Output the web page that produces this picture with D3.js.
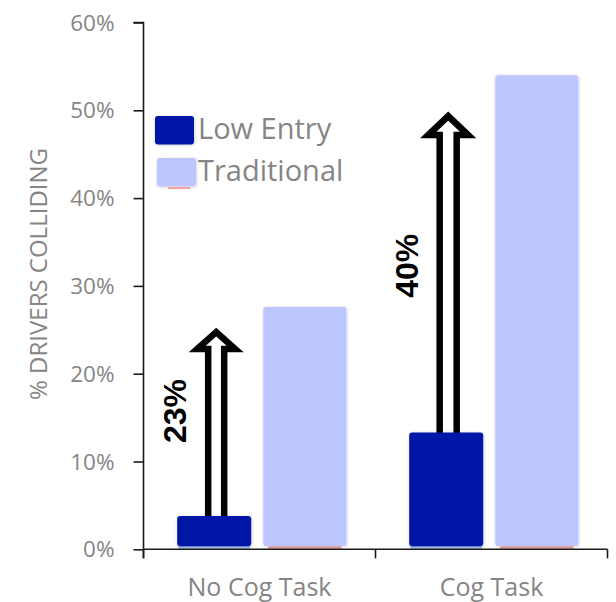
<!DOCTYPE html>
<html>
<head>
<meta charset="utf-8">
<script src="https://cdn.jsdelivr.net/npm/d3@7"></script>
<style>
  html, body { margin: 0; padding: 0; background: #fff; }
  svg { display: block; }
</style>
</head>
<body>
<script>
// ---- data ----
const categories = ["No Cog Task", "Cog Task"];
const series = ["Low Entry", "Traditional"];
const lowEntry = [0.038, 0.133];
const traditional = [0.276, 0.540];
const arrowTips = [0.252, 0.498];
const arrowLabels = ["23%", "40%"];
const arrowLabelPos = [0.1575, 0.323];
const yTickValues = [0, 0.1, 0.2, 0.3, 0.4, 0.5, 0.6];
const yTitle = "% DRIVERS COLLIDING";

// ---- styles ----
const W = 616, H = 602;
const colors = { "Low Entry": "#0016a6", "Traditional": "#bdc6ff" };
const stripColors = { "Low Entry": "#a9c4f2", "Traditional": "#f3a29c" };
const barWidth = { "Low Entry": 74, "Traditional": 83 };
const gray = "#858585";
const font = "'Open Sans', 'DejaVu Sans', sans-serif";

const svg = d3.select("body").append("svg").attr("width", W).attr("height", H);
const defs = svg.append("defs");
const f = defs.append("filter").attr("id", "sh").attr("x", "-20%").attr("y", "-20%").attr("width", "140%").attr("height", "140%");
f.append("feDropShadow").attr("dx", 0.5).attr("dy", 0.5).attr("stdDeviation", 1.5).attr("flood-color", "#000").attr("flood-opacity", 0.22);

const x0 = d3.scaleBand().domain(categories).range([143.5, 607.5]).paddingInner(0).paddingOuter(0);
const x1 = d3.scaleBand().domain(series).range([0, x0.bandwidth()]).paddingInner(0.1).paddingOuter(0.33);
const y = d3.scaleLinear().domain([0, 0.6]).range([549.3, 22.5]);

const rows = categories.map((c, i) => ({ cat: c, "Low Entry": lowEntry[i], "Traditional": traditional[i], tip: arrowTips[i], label: arrowLabels[i], lpos: arrowLabelPos[i] }));

// ---- arrows (drawn under bars) ----
const arrowG = svg.append("g");
rows.forEach(r => {
  const cx = x0(r.cat) + x1("Low Entry") + x1.bandwidth() / 2 + 2;
  const big = r.tip > 0.4;
  const hw = big ? 8.5 : 8;
  const hhw = big ? 20 : 19;
  const yTip = y(r.tip) + 4;
  const yBase = yTip + (big ? 19 : 17);
  const yBottom = y(r["Low Entry"]) + 6;
  const p = d3.path();
  p.moveTo(cx - hw, yBottom);
  p.lineTo(cx - hw, yBase);
  p.lineTo(cx - hhw, yBase);
  p.lineTo(cx, yTip);
  p.lineTo(cx + hhw, yBase);
  p.lineTo(cx + hw, yBase);
  p.lineTo(cx + hw, yBottom);
  arrowG.append("path").attr("d", p.toString())
    .attr("fill", "#fff").attr("stroke", "#000").attr("stroke-width", 6.5)
    .attr("stroke-linejoin", "miter").attr("stroke-miterlimit", 10);
  svg.append("text")
    .attr("transform", `translate(${cx - 30},${y(r.lpos)}) rotate(-90)`)
    .attr("text-anchor", "middle")
    .attr("font-family", "'Liberation Sans', Arial, sans-serif")
    .attr("font-weight", "bold").attr("font-size", 32)
    .attr("fill", "#000")
    .text(r.label);
});

// ---- bars ----
const barG = svg.append("g");
rows.forEach(r => {
  series.forEach(s => {
    const w = barWidth[s];
    const cx = x0(r.cat) + x1(s) + x1.bandwidth() / 2;
    const sw = s === "Traditional" ? w - 10 : w - 2;
    barG.append("rect")
      .attr("x", cx - sw / 2).attr("width", sw)
      .attr("y", y(0) - 4).attr("height", 3.5)
      .attr("fill", stripColors[s]);
    barG.append("rect")
      .attr("x", cx - w / 2).attr("width", w)
      .attr("y", y(r[s])).attr("height", y(0) - 3 - y(r[s]))
      .attr("rx", 3).attr("ry", 3)
      .attr("fill", colors[s])
      .attr("filter", "url(#sh)");
  });
});

// ---- axes ----
const yAxis = d3.axisLeft(y).tickValues(yTickValues).tickFormat(d3.format(".0%")).tickSize(10).tickPadding(19);
const ya = svg.append("g").attr("transform", "translate(143.5,0)").call(yAxis);
ya.select(".domain").attr("stroke", "#1a1a1a").attr("stroke-width", 1.6)
  .attr("d", `M-10,${y(0.6)}H0V${y(0) + 9}`);
ya.selectAll(".tick line").attr("stroke", "#1a1a1a").attr("stroke-width", 1.6);
ya.selectAll(".tick text").attr("font-family", font).attr("font-size", 22.5).attr("fill", gray).attr("dy", "0.34em");

const xAxis = d3.axisBottom(x0).tickSize(0).tickPadding(29);
const xa = svg.append("g").attr("transform", `translate(0,${y(0)})`).call(xAxis);
xa.select(".domain").attr("stroke", "#1a1a1a").attr("stroke-width", 1.6).attr("d", `M143.5,0H607.5`);
xa.selectAll(".tick text").attr("font-family", font).attr("font-size", 25).attr("fill", gray);
const bounds = [x0(categories[0]), x0(categories[1]), x0(categories[1]) + x0.bandwidth()];
xa.selectAll("line.bound").data(bounds).enter().append("line").attr("class", "bound")
  .attr("x1", d => d).attr("x2", d => d).attr("y1", 0).attr("y2", 9)
  .attr("stroke", "#1a1a1a").attr("stroke-width", 1.6);

// ---- y title ----
svg.append("text")
  .attr("transform", `translate(47,${274}) rotate(-90)`)
  .attr("text-anchor", "middle")
  .attr("font-family", font).attr("font-size", 24)
  .attr("fill", gray)
  .text(yTitle);

// ---- legend ----
const leg = svg.append("g");
const legY = [116, 158];
series.forEach((s, i) => {
  leg.append("rect").attr("x", i === 0 ? 155 : 157).attr("y", legY[i]).attr("width", 39).attr("height", 28.5)
    .attr("rx", 3).attr("fill", colors[s]).attr("filter", "url(#sh)");
  leg.append("text").attr("x", 198).attr("y", legY[i] + 23)
    .attr("font-family", font).attr("font-size", 29).attr("fill", gray).text(s);
});
leg.append("rect").attr("x", 168).attr("y", 187).attr("width", 22).attr("height", 2).attr("fill", stripColors["Traditional"]);
</script>
</body>
</html>
